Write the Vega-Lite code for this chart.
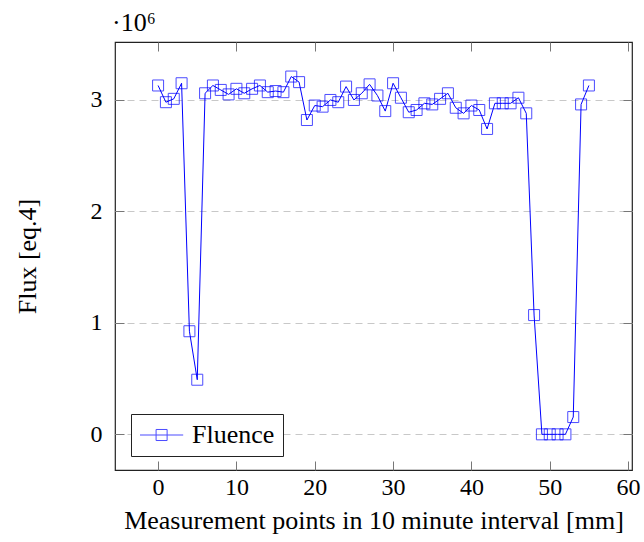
{
  "$schema": "https://vega.github.io/schema/vega-lite/v6.json",
  "width": 517,
  "height": 428,
  "autosize": {"type": "none"},
  "padding": {"left": 115, "top": 42, "right": 12, "bottom": 72},
  "background": "white",
  "title": {"text": "·10⁶", "anchor": "start", "frame": "group", "font": "Liberation Serif", "fontSize": 26, "fontWeight": "normal", "color": "black", "offset": 6, "dx": -3},
  "config": {
    "view": {"stroke": "#222", "strokeWidth": 1.2},
    "axis": {"labelFont": "Liberation Serif", "titleFont": "Liberation Serif", "labelColor": "black", "titleColor": "black", "titleFontWeight": "normal", "domain": false, "tickColor": "#777", "tickWidth": 1}
  },
  "data": {"values": [
    {"point": 0, "flux": 3130000}, {"point": 1, "flux": 2980000}, {"point": 2, "flux": 3010000}, {"point": 3, "flux": 3150000},
    {"point": 4, "flux": 925000}, {"point": 5, "flux": 490000}, {"point": 6, "flux": 3060000}, {"point": 7, "flux": 3130000},
    {"point": 8, "flux": 3090000}, {"point": 9, "flux": 3050000}, {"point": 10, "flux": 3100000}, {"point": 11, "flux": 3060000},
    {"point": 12, "flux": 3100000}, {"point": 13, "flux": 3130000}, {"point": 14, "flux": 3070000}, {"point": 15, "flux": 3080000},
    {"point": 16, "flux": 3070000}, {"point": 17, "flux": 3210000}, {"point": 18, "flux": 3160000}, {"point": 19, "flux": 2820000},
    {"point": 20, "flux": 2950000}, {"point": 21, "flux": 2940000}, {"point": 22, "flux": 3000000}, {"point": 23, "flux": 2980000},
    {"point": 24, "flux": 3120000}, {"point": 25, "flux": 3000000}, {"point": 26, "flux": 3060000}, {"point": 27, "flux": 3140000},
    {"point": 28, "flux": 3040000}, {"point": 29, "flux": 2900000}, {"point": 30, "flux": 3150000}, {"point": 31, "flux": 3020000},
    {"point": 32, "flux": 2890000}, {"point": 33, "flux": 2910000}, {"point": 34, "flux": 2970000}, {"point": 35, "flux": 2960000},
    {"point": 36, "flux": 3010000}, {"point": 37, "flux": 3060000}, {"point": 38, "flux": 2930000}, {"point": 39, "flux": 2880000},
    {"point": 40, "flux": 2950000}, {"point": 41, "flux": 2910000}, {"point": 42, "flux": 2740000}, {"point": 43, "flux": 2970000},
    {"point": 44, "flux": 2970000}, {"point": 45, "flux": 2970000}, {"point": 46, "flux": 3020000}, {"point": 47, "flux": 2880000},
    {"point": 48, "flux": 1070000}, {"point": 49, "flux": 0}, {"point": 50, "flux": 0}, {"point": 51, "flux": 0},
    {"point": 52, "flux": 0}, {"point": 53, "flux": 155000}, {"point": 54, "flux": 2960000}, {"point": 55, "flux": 3130000}
  ]},
  "resolve": {"axis": {"x": "independent", "y": "independent"}},
  "layer": [
    {
      "mark": {"type": "line", "strokeWidth": 1, "clip": true},
      "encoding": {
        "x": {"field": "point", "type": "quantitative", "scale": {"domain": [-5.5, 60.5], "nice": false, "zero": false},
          "axis": {"orient": "bottom", "values": [0, 10, 20, 30, 40, 50, 60], "tickSize": -9, "labelPadding": 14, "labelFontSize": 24, "title": "Measurement points in 10 minute interval [mm]", "titleFontSize": 26, "titlePadding": 8, "grid": false}},
        "y": {"field": "flux", "type": "quantitative", "scale": {"domain": [-320000, 3520000], "nice": false, "zero": false},
          "axis": {"orient": "left", "values": [0, 1000000, 2000000, 3000000], "labelExpr": "format(datum.value/1000000, 'd')", "tickSize": -9, "labelPadding": 22, "labelFontSize": 24, "title": "Flux [eq.4]", "titleFontSize": 26, "titlePadding": 50, "grid": true, "gridColor": "#c8c8c8", "gridDash": [7, 5], "gridWidth": 1}},
        "color": {"datum": "Fluence", "type": "nominal", "scale": {"range": ["blue"]},
          "legend": {"title": null, "orient": "none", "legendX": 16, "legendY": 372, "strokeColor": "#222", "fillColor": "white", "padding": 8, "symbolType": "M-1,0H2.6M0.34,-0.46H1.26V0.46H0.34Z", "symbolSize": 576, "symbolStrokeWidth": 1, "symbolFillColor": "transparent", "symbolStrokeColor": "blue", "labelFont": "Liberation Serif", "labelFontSize": 26, "labelColor": "black", "labelOffset": 27}}
      }
    },
    {
      "mark": {"type": "point", "shape": "square", "filled": false, "size": 121, "strokeWidth": 1, "clip": true},
      "encoding": {
        "x": {"field": "point", "type": "quantitative", "scale": {"domain": [-5.5, 60.5], "nice": false, "zero": false},
          "axis": {"orient": "top", "values": [0, 10, 20, 30, 40, 50, 60], "tickSize": -9, "labels": false, "title": null, "grid": false}},
        "y": {"field": "flux", "type": "quantitative", "scale": {"domain": [-320000, 3520000], "nice": false, "zero": false},
          "axis": {"orient": "right", "values": [0, 1000000, 2000000, 3000000], "tickSize": -9, "labels": false, "title": null, "grid": false}},
        "color": {"datum": "Fluence", "type": "nominal", "scale": {"range": ["blue"]}}
      }
    }
  ]
}
